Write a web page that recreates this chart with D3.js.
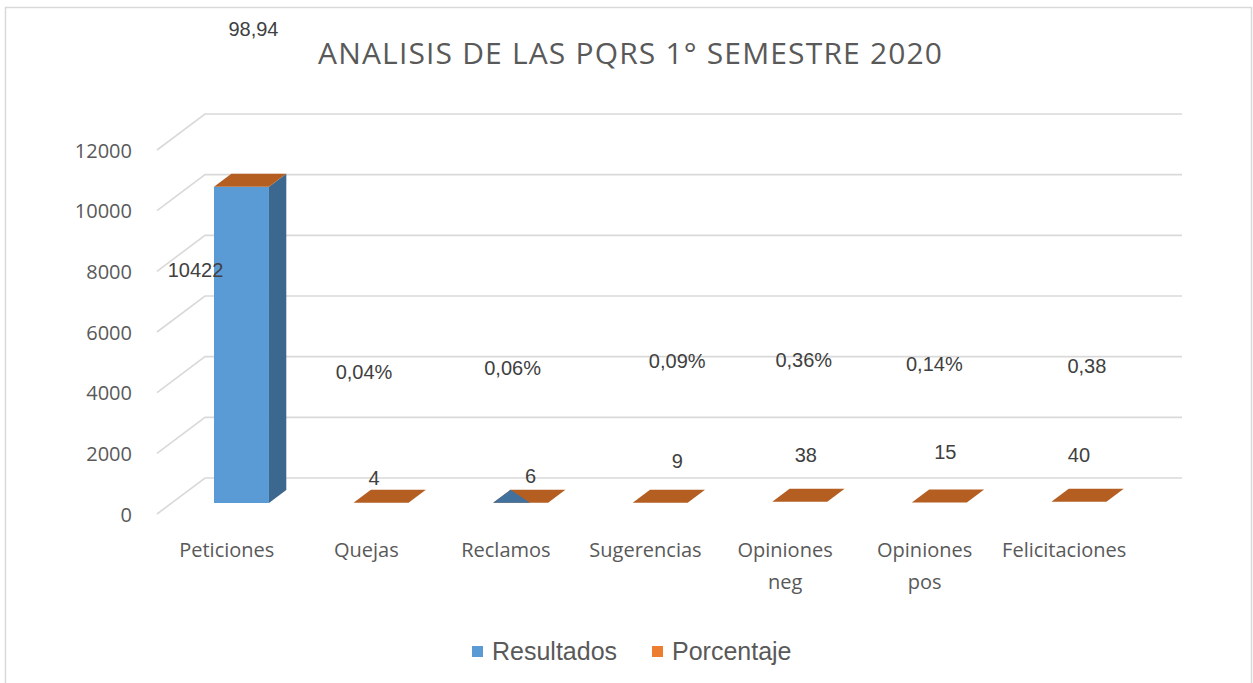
<!DOCTYPE html>
<html>
<head>
<meta charset="utf-8">
<script src="https://cdn.jsdelivr.net/npm/d3@7"></script>
<style>
  html, body { margin: 0; padding: 0; background: #ffffff; }
  svg { display: block; }
</style>
</head>
<body>
<svg id="chart" width="1253" height="683"></svg>
<script>
// ---------------- data ----------------
const categories = ["Peticiones", "Quejas", "Reclamos", "Sugerencias", "Opiniones neg", "Opiniones pos", "Felicitaciones"];
const resultados = [10422, 4, 6, 9, 38, 15, 40];
const porcentaje = [98.94, 0.04, 0.06, 0.09, 0.36, 0.14, 0.38];
const porcentajeLabels = ["98,94", "0,04%", "0,06%", "0,09%", "0,36%", "0,14%", "0,38"];
const yTicks = [0, 2000, 4000, 6000, 8000, 10000, 12000];
const seriesNames = ["Resultados", "Porcentaje"];
const title = "ANALISIS DE LAS PQRS 1° SEMESTRE 2020";

// ---------------- layout (label nudges as in the original, px) ----------------
const valueLabelNudge = [[-46, 83], [-7, -25], [10, -27], [17, -42], [6, -47], [6, -51], [0, -47]];
const pctLabelNudge = [[12, -158], [-17, -131], [-8, -135], [17, -142], [4, -142], [-5, -139], [8, -136]];

const svg = d3.select("#chart");
const textColor = "#595959";
const gridColor = "#d9d9d9";
const blue = "#5b9bd5", blueSide = "#3c6890", blueDark = "#41719c";
const orange = "#ed7d31", orangeTop = "#b55e22";

// chart border
svg.append("rect").attr("x", 5.5).attr("y", 7.5).attr("width", 1246).attr("height", 700)
  .attr("fill", "none").attr("stroke", gridColor).attr("stroke-width", 1.5);

// 3D projection: back wall coordinates + depth offset
const DX = -48, DY = 36;             // offset from back wall to front edge of floor
const barBack = 0.333, barFront = 0.694; // bar depth position (fraction of floor depth)

const x = d3.scaleBand().domain(categories).range([205, 1182]);
const y = d3.scaleLinear().domain([0, 12000]).range([478, 114]);
const barW = x.bandwidth() * 0.394;

function P(xb, v, d) { return [xb + DX * d, y(v) + DY * d]; }

// gridlines
const grid = svg.append("g");
yTicks.forEach(t => {
  const back0 = P(205, t, 0), back1 = P(1182, t, 0), front = P(205, t, 1);
  grid.append("path")
    .attr("d", d3.line()([front, back0, back1]))
    .attr("fill", "none").attr("stroke", gridColor).attr("stroke-width", 1.6);
});

// y tick labels
svg.append("g").selectAll("text").data(yTicks).join("text")
  .attr("x", 132).attr("y", d => P(205, d, 1)[1])
  .attr("text-anchor", "end").attr("dominant-baseline", "central")
  .attr("font-family", "Open Sans, sans-serif").attr("font-size", 20)
  .attr("fill", textColor).text(d => d);

// bars
const bars = svg.append("g");
categories.forEach((c, i) => {
  const xl = x(c) + (x.bandwidth() - barW) / 2, xr = xl + barW;
  const v = resultados[i];
  const poly = pts => bars.append("polygon").attr("points", pts.map(p => p.join(",")).join(" "));
  if (y(0) - y(v) > 3) {
    // side face
    poly([P(xr, 0, barFront), P(xr, v, barFront), P(xr, v, barBack), P(xr, 0, barBack)]).attr("fill", blueSide);
    // front face
    poly([P(xl, 0, barFront), P(xl, v, barFront), P(xr, v, barFront), P(xr, 0, barFront)]).attr("fill", blue);
  }
  // top face (Porcentaje series rendered as a thin cap)
  poly([P(xl, v, barFront), P(xr, v, barFront), P(xr, v, barBack), P(xl, v, barBack)]).attr("fill", orangeTop);
  if (c === "Reclamos") {
    // rendering artifact of the original: part of the blue face shows through
    poly([P(xl, v, barFront), P(xl, v, barBack), P(xl + barW * 0.67, v, barFront)]).attr("fill", blueDark);
  }
});

// value labels
const lab = svg.append("g").attr("font-family", "Liberation Sans, Arial, sans-serif")
  .attr("font-size", 20).attr("fill", "#404040").attr("text-anchor", "middle")
  .attr("dominant-baseline", "central");
categories.forEach((c, i) => {
  const cx = x(c) + x.bandwidth() / 2 + DX * barFront;
  const topY = y(resultados[i]) + DY * barFront;
  lab.append("text").attr("x", cx + valueLabelNudge[i][0]).attr("y", topY + valueLabelNudge[i][1])
    .text(resultados[i]);
  lab.append("text").attr("x", cx + pctLabelNudge[i][0]).attr("y", topY + pctLabelNudge[i][1])
    .text(porcentajeLabels[i]);
});

// category labels (front edge of floor)
const cat = svg.append("g").attr("font-family", "Open Sans, sans-serif").attr("font-size", 20)
  .attr("fill", textColor).attr("text-anchor", "middle");
categories.forEach(c => {
  const cx = x(c) + x.bandwidth() / 2 + DX;
  const words = c.startsWith("Opiniones") ? c.split(" ") : [c];
  const t = cat.append("text").attr("x", cx).attr("y", 557);
  words.forEach((w, k) => t.append("tspan").attr("x", cx).attr("dy", k === 0 ? 0 : 32).text(w));
});

// title
svg.append("text").attr("x", 630).attr("y", 64).attr("text-anchor", "middle")
  .attr("font-family", "Open Sans, sans-serif").attr("font-size", 30)
  .attr("textLength", 624).attr("lengthAdjust", "spacing")
  .attr("fill", textColor).text(title);

// legend
const legend = svg.append("g").attr("font-family", "Liberation Sans, Arial, sans-serif")
  .attr("font-size", 25).attr("fill", textColor);
const legX = [472, 652], legCol = [blue, orange];
seriesNames.forEach((s, i) => {
  legend.append("rect").attr("x", legX[i]).attr("y", 646).attr("width", 11).attr("height", 11).attr("fill", legCol[i]);
  legend.append("text").attr("x", legX[i] + 20).attr("y", 660).text(s);
});
</script>
</body>
</html>
